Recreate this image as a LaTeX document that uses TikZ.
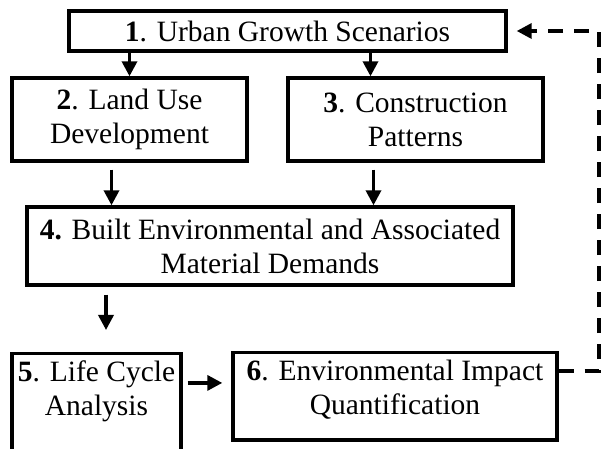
\documentclass[tikz,border=0pt]{standalone}
\usepackage{fontspec}
\setmainfont{Liberation Serif}
\usetikzlibrary{positioning, arrows.meta}

\begin{document}
\begin{tikzpicture}[x=1pt, y=-1pt,
  stage/.style={rectangle, draw, line width=3.4pt, align=center, inner sep=0pt, font=\fontsize{29.5}{34}\selectfont},
  openstage/.style={stage, anchor=north, inner ysep=7pt},
  flow/.style={line width=3.4pt, -{Triangle[length=15pt, width=15pt]}},
  feedback/.style={flow, dash pattern=on 15pt off 11pt}] % dashed loop back to the top

\useasboundingbox (0,0) rectangle (603,449);
\clip (0,0) rectangle (603,449);

% Box 1 - Scenarios
\node[stage, minimum width=437pt, minimum height=40pt] (growth) at (287.5,31) {\textbf{1}. Urban Growth Scenarios};

% Box 2 - Land use
\node[stage, minimum width=235pt, minimum height=83pt] (landuse) at (129.5,119.5) {\textbf{2}. Land Use\\Development};

% Box 3 - Construction
\node[stage, minimum width=255pt, minimum height=83pt] (construct) at (415.5,119.5) {\textbf{3}. Construction\\Patterns};

% Box 4 - Material demands
\node[stage, minimum width=486pt, minimum height=78pt] (demand) at (270,246) {\textbf{4.} Built Environmental and Associated\\Material Demands};

% Box 5 - LCA (runs off the bottom)
\node[openstage, minimum width=169pt, text depth=120pt] (lca) at (96.5,352) {\textbf{5}. Life Cycle\\Analysis};

% Box 6 - Impacts
\node[openstage, minimum width=324pt, text depth=19pt] (impact) at (395,351) {\textbf{6}. Environmental Impact\\Quantification};

% arrows
\draw[flow] (growth.south -| landuse.north) -- (landuse.north);
\draw[flow] ([xshift=-45pt]construct.north |- growth.south) -- ([xshift=-45pt]construct.north);
\draw[flow, shorten <=7pt] ([xshift=-18pt]landuse.south) -- ([xshift=-18pt]landuse.south |- demand.north);
\draw[flow, shorten <=7pt] ([xshift=-42pt]construct.south) -- ([xshift=-42pt]construct.south |- demand.north);
\draw[flow, shorten <=8pt, shorten >=22pt] ([xshift=9.5pt]lca.north |- demand.south) -- ([xshift=9.5pt]lca.north);
\draw[flow, shorten <=5pt, shorten >=9pt] ([yshift=13.5pt]impact.west -| lca.east) -- ([yshift=13.5pt]impact.west);

% feedback loop
\coordinate (back) at (599,0);
\draw[feedback] ([yshift=25.5pt]impact.east) -- ([yshift=25.5pt]impact.east -| back) |- ([xshift=9pt]growth.east);

\end{tikzpicture}
\end{document}
